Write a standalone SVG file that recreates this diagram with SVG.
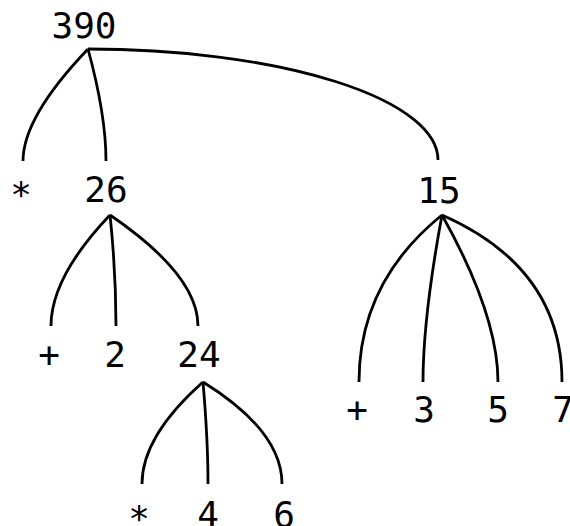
<svg xmlns="http://www.w3.org/2000/svg" width="570" height="526" viewBox="0 0 570 526">
<style>
.t{font-family:"DejaVu Sans Mono","Liberation Mono",monospace;font-size:36px;fill:#000;text-anchor:middle}
.e{fill:none;stroke:#000;stroke-width:2.8}
</style>
<rect width="570" height="526" fill="#fff"/>
<g id="connectors">
<path class="e" d="M88,49 Q23,117 23,161"/>
<path class="e" d="M88,49 Q106,115 106,161"/>
<path class="e" d="M88,49 A350,111 0 0 1 438,160"/>
<path class="e" d="M110,215 Q51,277 51,326"/>
<path class="e" d="M110,215 Q116,272 116,326"/>
<path class="e" d="M110,215 Q198,275 198,326"/>
<path class="e" d="M203,382 Q142,436 142,484"/>
<path class="e" d="M203,382 Q208,440 208,484"/>
<path class="e" d="M203,382 Q282,431 282,484"/>
<path class="e" d="M442,215 Q359,282 359,382"/>
<path class="e" d="M442,215 Q423,318 423,382"/>
<path class="e" d="M442,215 Q498,315 498,382"/>
<path class="e" d="M442,215 Q562,268 562,382"/>
</g>
<g id="n390"><text class="t" x="84" y="38">390</text></g>
<g id="nmul1"><text class="t" x="21" y="207">*</text></g>
<g id="n26"><text class="t" x="106" y="202">26</text></g>
<g id="n15"><text class="t" x="439" y="203">15</text></g>
<g id="nplus1"><text class="t" x="49" y="367">+</text></g>
<g id="n2"><text class="t" x="115" y="367">2</text></g>
<g id="n24"><text class="t" x="199" y="367">24</text></g>
<g id="nplus2"><text class="t" x="357" y="422">+</text></g>
<g id="n3"><text class="t" x="424" y="422">3</text></g>
<g id="n5"><text class="t" x="498" y="422">5</text></g>
<g id="n7"><text class="t" x="563" y="422">7</text></g>
<g id="nmul2"><text class="t" x="139" y="531">*</text></g>
<g id="n4"><text class="t" x="208" y="527">4</text></g>
<g id="n6"><text class="t" x="284" y="527">6</text></g>
</svg>
